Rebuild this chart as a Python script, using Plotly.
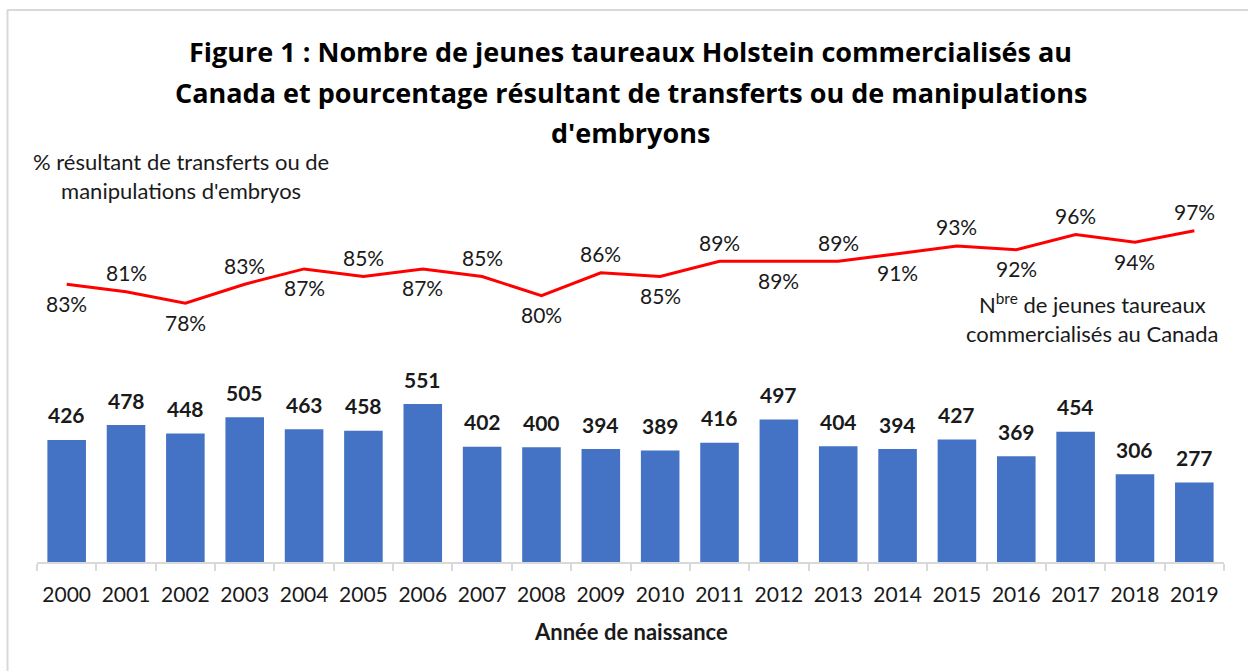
import plotly.graph_objects as go

years = [str(y) for y in range(2000, 2020)]
bulls = [426, 478, 448, 505, 463, 458, 551, 402, 400, 394, 389, 416, 497, 404, 394, 427, 369, 454, 306, 277]
pct = [83, 81, 78, 83, 87, 85, 87, 85, 80, 86, 85, 89, 89, 89, 91, 93, 92, 96, 94, 97]
pct_label_side = ["below", "above"] * 10

title_lines = [
    "Figure 1 : Nombre de jeunes taureaux Holstein commercialisés au",
    "Canada et pourcentage résultant de transferts ou de manipulations",
    "d'embryons",
]
x_title = "Année de naissance"
line_note = "% résultant de transferts ou de<br>manipulations d'embryos"
bar_note = "N<sup>bre</sup> de jeunes taureaux<br>commercialisés au Canada"

FONT = "Lato"
TFONT = "Open Sans"
TXT = "#1a1a1a"

# layout geometry (pixels)
W, H = 1248, 671
ML, MR, MT, MB = 37, 24, 200, 109
PW, PH = W - ML - MR, H - MT - MB


def px_to_paper_x(px):
    return (px - ML) / PW


def px_to_paper_y(py):
    return (H - MB - py) / PH


fig = go.Figure()
fig.add_trace(go.Bar(
    x=years, y=bulls, marker=dict(color="#4472C4", line=dict(width=0)),
    yaxis="y", hoverinfo="x+y",
))
fig.add_trace(go.Scatter(
    x=years, y=pct, mode="lines", line=dict(color="#FF0000", width=3),
    yaxis="y2", hoverinfo="x+y",
))

annotations = []
# category axis: annotation x given as category index (numeric names would be read as indices)
for i, v in enumerate(bulls):
    annotations.append(dict(
        x=i, y=v, xref="x", yref="y", text=f"<b>{v}</b>", showarrow=False,
        yanchor="middle", yshift=25, font=dict(family=FONT, size=21, color=TXT),
    ))
for i, (p, side) in enumerate(zip(pct, pct_label_side)):
    annotations.append(dict(
        x=i, y=p, xref="x", yref="y2", text=f"{p}%", showarrow=False,
        yanchor="middle", yshift=19 if side == "above" else -19,
        font=dict(family=FONT, size=21, color=TXT),
    ))
for txt, py in zip(title_lines, [52, 92, 132]):
    annotations.append(dict(
        x=px_to_paper_x(631), y=px_to_paper_y(py), xref="paper", yref="paper",
        text=f"<b>{txt}</b>", showarrow=False, xanchor="center", yanchor="middle",
        font=dict(family=TFONT, size=27, color="#000000"),
    ))
annotations.append(dict(
    x=0.5, y=px_to_paper_y(631), xref="paper", yref="paper",
    text=f"<b>{x_title}</b>", showarrow=False, xanchor="center", yanchor="middle",
    font=dict(family=FONT, size=22, color=TXT),
))
annotations.append(dict(
    x=px_to_paper_x(181), y=px_to_paper_y(176), xref="paper", yref="paper",
    text=line_note, showarrow=False, xanchor="center", yanchor="middle", align="center",
    font=dict(family=FONT, size=22, color=TXT),
))
annotations.append(dict(
    x=px_to_paper_x(1092), y=px_to_paper_y(318), xref="paper", yref="paper",
    text=bar_note, showarrow=False, xanchor="center", yanchor="middle", align="center",
    font=dict(family=FONT, size=22, color=TXT),
))

frame = "#d9d9d9"
shapes = [
    dict(type="line", xref="paper", yref="paper",
         x0=px_to_paper_x(7), x1=px_to_paper_x(1260), y0=px_to_paper_y(10), y1=px_to_paper_y(10),
         line=dict(color=frame, width=2)),
    dict(type="line", xref="paper", yref="paper",
         x0=px_to_paper_x(7.5), x1=px_to_paper_x(7.5), y0=px_to_paper_y(10), y1=px_to_paper_y(680),
         line=dict(color=frame, width=2)),
]

fig.update_layout(
    width=W, height=H,
    margin=dict(l=ML, r=MR, t=MT, b=MB, pad=0),
    paper_bgcolor="white", plot_bgcolor="white",
    showlegend=False, bargap=0.35,
    font=dict(family=FONT, color=TXT),
    xaxis=dict(
        type="category", range=[-0.5, 19.5], showgrid=False, showline=True,
        linecolor="#d9d9d9", linewidth=1.5,
        ticks="outside", tickson="boundaries", ticklen=7, tickcolor="#d9d9d9", tickwidth=1.5,
        tickfont=dict(family=FONT, size=21, color=TXT), ticklabelstandoff=13, tickangle=0,
    ),
    yaxis=dict(range=[0, 1263], visible=False, showgrid=False, fixedrange=True),
    yaxis2=dict(range=[10.28, 105.04], overlaying="y", visible=False, showgrid=False),
    annotations=annotations, shapes=shapes,
)

fig.write_html("out.html")
